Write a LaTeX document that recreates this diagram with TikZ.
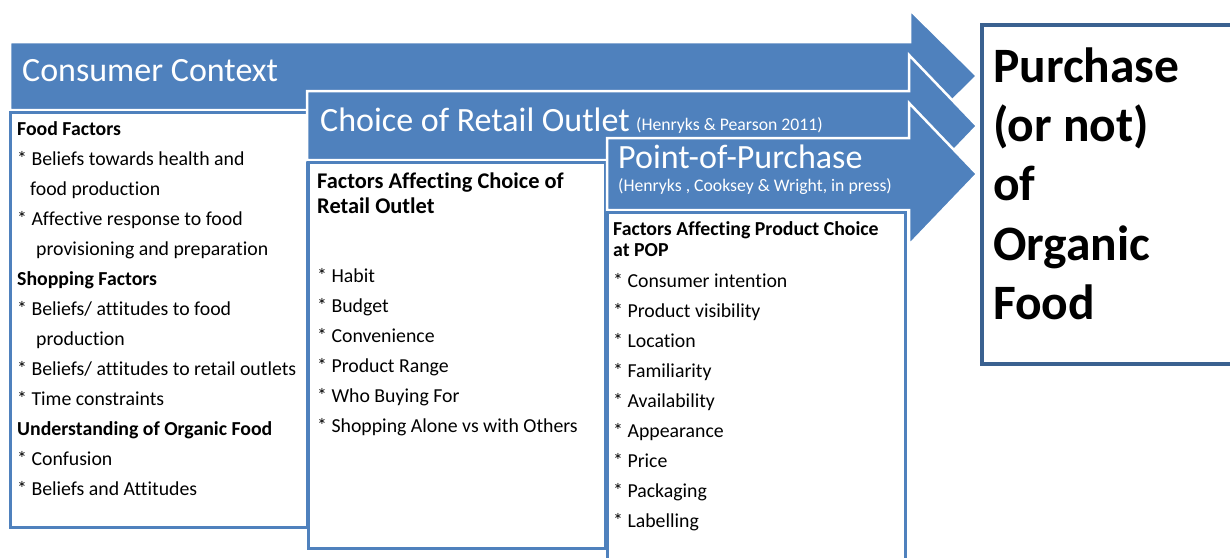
\documentclass[tikz,border=0pt]{standalone}
\usepackage{fontspec}
\setmainfont{Carlito}[Ligatures=NoCommon]
\definecolor{barblue}{HTML}{4F81BD}
\definecolor{frameblue}{HTML}{4F81BD}
\definecolor{goalblue}{HTML}{3A6190}

\begin{document}
\begin{tikzpicture}[x=1pt,y=-1pt,
  bar/.style={fill=barblue,draw=white,line width=2.5pt,line join=miter},
  panel/.style={fill=white,draw=frameblue,line width=3pt},
  goal/.style={fill=white,draw=goalblue,line width=3.5pt},
  title/.style={anchor=base west,inner sep=0pt,text=white,font=\fontsize{34}{40}\selectfont},
  cite/.style={anchor=base west,inner sep=0pt,text=white,font=\fontsize{17.7}{20}\selectfont},
  item/.style={anchor=base west,inner sep=0pt,font=\fontsize{19.8}{23}\selectfont},
  head/.style={anchor=base west,inner sep=0pt,font=\fontsize{19.8}{23}\selectfont\bfseries},
  bighead/.style={anchor=base west,inner sep=0pt,font=\fontsize{22.4}{25}\selectfont\bfseries},
  outcome/.style={anchor=base west,inner sep=0pt,font=\fontsize{49.5}{59}\selectfont\bfseries},
]
\useasboundingbox (0,0) rectangle (1230,557);
\clip (0,0) rectangle (1230,557);

% Consumer context band and its panel
\path[bar] (10,42) -- (910,42) -- (910,10) -- (977,76) -- (910,142) -- (910,110) -- (10,110) -- cycle;
\draw[panel] (10,112) rectangle (307,527);

% Retail outlet band and its panel
\path[bar] (307,91) -- (909,91) -- (909,55) -- (977,126) -- (909,197) -- (909,160) -- (307,160) -- cycle;
\draw[panel] (308,162) rectangle (605,548);

% Point-of-purchase band and its panel
\path[bar] (607,138) -- (909,138) -- (909,103) -- (977,174) -- (909,245) -- (909,210) -- (607,210) -- cycle;
\draw[panel] (607,212) rectangle (905,580);

% Outcome box
\draw[goal] (982,25) rectangle (1250,364);

% Band titles
\node[title] (t1) at (22,81) {Consumer Context};
\node[title] (t2) at (320,131) {Choice of Retail Outlet};
\node[cite] (c2) at (636,130) {(Henryks \& Pearson 2011)};
\node[title] (t3) at (618,168) {Point-of-Purchase};
\node[cite] (c3) at (618,191) {(Henryks , Cooksey \& Wright, in press)};

% Consumer context factors
\node[head] (a1) at (17,135) {Food Factors};
\node[item] (a2) at (17,165) {* Beliefs towards health and};
\node[item] (a3) at (30,195) {food production};
\node[item] (a4) at (17,225) {* Affective response to food};
\node[item] (a5) at (36,255) {provisioning and preparation};
\node[head] (a6) at (17,285) {Shopping Factors};
\node[item] (a7) at (17,315) {* Beliefs/ attitudes to food};
\node[item] (a8) at (36,345) {production};
\node[item] (a9) at (17,375) {* Beliefs/ attitudes to retail outlets};
\node[item] (a10) at (17,405) {* Time constraints};
\node[head] (a11) at (17,435) {Understanding of Organic Food};
\node[item] (a12) at (17,465) {* Confusion};
\node[item] (a13) at (17,495) {* Beliefs and Attitudes};

% Retail outlet factors
\node[bighead] (b1) at (317,188) {Factors Affecting Choice of};
\node[bighead] (b2) at (317,213) {Retail Outlet};
\node[item] (b3) at (317,282) {* Habit};
\node[item] (b4) at (317,312) {* Budget};
\node[item] (b5) at (317,342) {* Convenience};
\node[item] (b6) at (317,372) {* Product Range};
\node[item] (b7) at (317,402) {* Who Buying For};
\node[item] (b8) at (317,432) {* Shopping Alone vs with Others};

% Point-of-purchase factors
\node[head] (p1) at (613,235) {Factors Affecting Product Choice};
\node[head] (p2) at (613,256) {at POP};
\node[item] (p3) at (613,287) {* Consumer intention};
\node[item] (p4) at (613,317) {* Product visibility};
\node[item] (p5) at (613,347) {* Location};
\node[item] (p6) at (613,377) {* Familiarity};
\node[item] (p7) at (613,407) {* Availability};
\node[item] (p8) at (613,437) {* Appearance};
\node[item] (p9) at (613,467) {* Price};
\node[item] (p10) at (613,497) {* Packaging};
\node[item] (p11) at (613,527) {* Labelling};

% Outcome
\node[outcome] (o1) at (993,82) {Purchase};
\node[outcome] (o2) at (993,141) {(or not)};
\node[outcome] (o3) at (993,200) {of};
\node[outcome] (o4) at (993,260) {Organic};
\node[outcome] (o5) at (993,319) {Food};
\end{tikzpicture}
\end{document}
